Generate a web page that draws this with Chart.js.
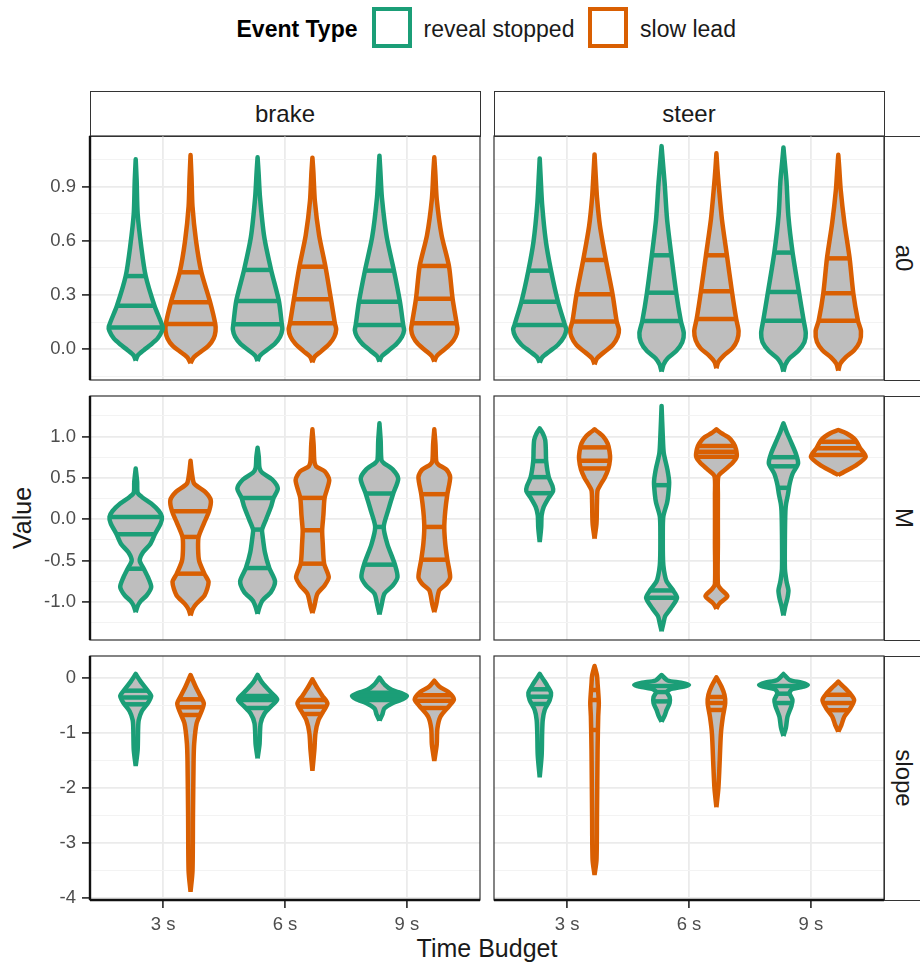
<!DOCTYPE html>
<html>
<head>
<meta charset="utf-8">
<script src="https://cdn.jsdelivr.net/npm/chart.js@4.4.1/dist/chart.umd.min.js"></script>
<style>
  body { margin: 0; background: #fff; font-family: "Liberation Sans", Arial, sans-serif; }
  #wrap { position: relative; width: 920px; height: 965px; overflow: hidden; background: #fff; }
  #wrap canvas { position: absolute; }
  .strip { position: absolute; box-sizing: border-box; border: 1px solid #333; background: #fff; }
  .txt { position: absolute; white-space: nowrap; line-height: 1; transform: translate(-50%, -50%); color: #1a1a1a; }
  .key { position: absolute; box-sizing: border-box; width: 40px; height: 41px; border: 4px solid; background: #fff; }
</style>
</head>
<body>
<div id="wrap">
  <!-- legend -->
  <div class="txt" style="left:297px; top:29px; font-size:23px; font-weight:bold; color:#000;">Event Type</div>
  <div class="key" style="left:372px; top:7px; border-color:#1B9E77;"></div>
  <div class="txt" style="left:499px; top:29px; font-size:23px;">reveal stopped</div>
  <div class="key" style="left:588px; top:7px; border-color:#D95F02;"></div>
  <div class="txt" style="left:688px; top:29px; font-size:23px;">slow lead</div>

  <!-- facet strips -->
  <div class="strip" style="left:90px; top:91px; width:391px; height:46px;"></div>
  <div class="strip" style="left:494px; top:91px; width:391px; height:46px;"></div>
  <div class="txt" style="left:285px; top:114px; font-size:24px;">brake</div>
  <div class="txt" style="left:689px; top:114px; font-size:24px;">steer</div>

  <div class="strip" style="left:884px; top:136px; width:50px; height:245px;"></div>
  <div class="strip" style="left:884px; top:396px; width:50px; height:245px;"></div>
  <div class="strip" style="left:884px; top:656px; width:50px; height:245px;"></div>
  <div class="txt" style="left:904px; top:258px; font-size:24px; transform:translate(-50%,-50%) rotate(90deg);">a0</div>
  <div class="txt" style="left:904px; top:518px; font-size:24px; transform:translate(-50%,-50%) rotate(90deg);">M</div>
  <div class="txt" style="left:904px; top:778px; font-size:24px; transform:translate(-50%,-50%) rotate(90deg);">slope</div>

  <!-- axis titles -->
  <div class="txt" style="left:22px; top:518px; font-size:25px; transform:translate(-50%,-50%) rotate(-90deg);">Value</div>
  <div class="txt" style="left:487px; top:948px; font-size:25px;">Time Budget</div>

  <canvas id="brakeA0" width="446" height="250" style="left:37px; top:133px;"></canvas>
  <canvas id="steerA0" width="396" height="250" style="left:491px; top:133px;"></canvas>
  <canvas id="brakeM" width="446" height="250" style="left:37px; top:393px;"></canvas>
  <canvas id="steerM" width="396" height="250" style="left:491px; top:393px;"></canvas>
  <canvas id="brakeSlope" width="446" height="291" style="left:37px; top:653px;"></canvas>
  <canvas id="steerSlope" width="396" height="291" style="left:491px; top:653px;"></canvas>
</div>

<script>
// categories
const timeBudgets = ['3 s', '6 s', '9 s'];
const eventTypes = ['reveal stopped', 'slow lead'];
const eventColors = ['#1B9E77', '#D95F02'];

// y axes per row (free scales)
const a0Range = [-0.17, 1.18];
const a0Ticks = [0, 0.3, 0.6, 0.9];
const a0TickLabels = ['0.0', '0.3', '0.6', '0.9'];
const a0Minor = [-0.15, 0.15, 0.45, 0.75, 1.05];

const mRange = [-1.46, 1.49];
const mTicks = [-1, -0.5, 0, 0.5, 1];
const mTickLabels = ['-1.0', '-0.5', '0.0', '0.5', '1.0'];
const mMinor = [-1.25, -0.75, -0.25, 0.25, 0.75, 1.25];

const slopeRange = [-4.03, 0.405];
const slopeTicks = [-4, -3, -2, -1, 0];
const slopeTickLabels = ['-4', '-3', '-2', '-1', '0'];
const slopeMinor = [-3.5, -2.5, -1.5, -0.5];

// violin profiles: [value, half width] from bottom to top
// order: 3 s reveal, 3 s slow, 6 s reveal, 6 s slow, 9 s reveal, 9 s slow
const brakeA0Profiles = [
  [[-0.063,0],[-0.035,.016],[-0.005,.066],[0.025,.123],[0.06,.18],[0.1,.215],[0.125,.221],[0.241,.154],[0.405,.082],[0.57,.045],[0.75,.016],[0.93,.008],[1.051,0]],
  [[-0.077,0],[-0.045,.025],[-0.015,.082],[0.02,.148],[0.06,.189],[0.1,.205],[0.14,.203],[0.26,.161],[0.426,.089],[0.6,.045],[0.79,.016],[0.95,.008],[1.075,0]],
  [[-0.065,0],[-0.035,.02],[-0.005,.074],[0.03,.14],[0.07,.185],[0.11,.203],[0.138,.199],[0.267,.175],[0.439,.111],[0.62,.055],[0.84,.02],[0.98,.008],[1.062,0]],
  [[-0.072,0],[-0.04,.02],[-0.01,.074],[0.03,.14],[0.07,.18],[0.11,.195],[0.144,.184],[0.277,.152],[0.457,.107],[0.63,.055],[0.82,.02],[0.98,.008],[1.06,0]],
  [[-0.068,0],[-0.038,.02],[-0.008,.074],[0.03,.14],[0.07,.185],[0.105,.202],[0.134,.195],[0.263,.168],[0.435,.119],[0.62,.06],[0.84,.02],[0.98,.008],[1.071,0]],
  [[-0.068,0],[-0.038,.02],[-0.008,.07],[0.03,.135],[0.07,.175],[0.11,.19],[0.144,.183],[0.28,.15],[0.461,.12],[0.63,.06],[0.83,.02],[0.98,.008],[1.062,0]]
];
const brakeA0Quartiles = [
  [0.12, 0.241, 0.405], [0.14, 0.26, 0.426], [0.138, 0.267, 0.439],
  [0.144, 0.277, 0.457], [0.134, 0.263, 0.435], [0.144, 0.28, 0.461]
];

const steerA0Profiles = [
  [[-0.074,0],[-0.045,.02],[-0.012,.08],[0.025,.15],[0.07,.2],[0.11,.218],[0.134,.207],[0.263,.15],[0.435,.093],[0.6,.05],[0.8,.02],[0.95,.008],[1.056,0]],
  [[-0.083,0],[-0.05,.02],[-0.015,.08],[0.025,.15],[0.07,.19],[0.11,.2],[0.153,.182],[0.304,.148],[0.494,.093],[0.68,.045],[0.84,.02],[0.98,.008],[1.078,0]],
  [[-0.124,0],[-0.085,.016],[-0.05,.05],[-0.01,.12],[0.04,.17],[0.09,.182],[0.157,.158],[0.313,.12],[0.52,.08],[0.72,.045],[0.92,.025],[1.04,.01],[1.124,0]],
  [[-0.105,0],[-0.07,.016],[-0.035,.06],[0.005,.13],[0.05,.17],[0.1,.182],[0.168,.162],[0.321,.127],[0.52,.086],[0.72,.045],[0.9,.02],[1.0,.008],[1.084,0]],
  [[-0.124,0],[-0.085,.016],[-0.05,.05],[-0.01,.12],[0.04,.172],[0.09,.183],[0.158,.166],[0.317,.127],[0.535,.075],[0.74,.04],[0.93,.025],[1.04,.01],[1.117,0]],
  [[-0.118,0],[-0.08,.016],[-0.045,.06],[-0.005,.13],[0.04,.175],[0.1,.186],[0.158,.161],[0.31,.123],[0.503,.093],[0.7,.05],[0.88,.02],[1.0,.008],[1.076,0]]
];
const steerA0Quartiles = [
  [0.134, 0.263, 0.435], [0.153, 0.304, 0.494], [0.157, 0.313, 0.52],
  [0.168, 0.321, 0.52], [0.158, 0.317, 0.535], [0.158, 0.31, 0.503]
];

const brakeMProfiles = [
  [[-1.124,0],[-1.05,.016],[-0.99,.041],[-0.92,.09],[-0.82,.127],[-0.7,.1],[-0.598,.066],[-0.5,.033],[-0.4,.06],[-0.3,.12],[-0.182,.157],[-0.05,.205],[0.028,.215],[0.1,.19],[0.19,.127],[0.27,.05],[0.32,.016],[0.45,.012],[0.614,0]],
  [[-1.164,0],[-1.09,.016],[-1.02,.049],[-0.92,.115],[-0.76,.148],[-0.658,.113],[-0.5,.07],[-0.35,.062],[-0.214,.066],[-0.05,.11],[0.097,.152],[0.23,.166],[0.33,.12],[0.43,.03],[0.55,.012],[0.707,0]],
  [[-1.143,0],[-1.06,.016],[-0.98,.041],[-0.88,.11],[-0.75,.143],[-0.59,.096],[-0.4,.06],[-0.2,.041],[-0.125,.037],[0.0,.07],[0.15,.11],[0.258,.131],[0.372,.166],[0.48,.12],[0.56,.04],[0.62,.016],[0.75,.01],[0.865,0]],
  [[-1.135,0],[-1.05,.016],[-0.9,.041],[-0.8,.1],[-0.7,.134],[-0.537,.096],[-0.3,.085],[-0.133,.08],[0.05,.09],[0.258,.1],[0.473,.138],[0.58,.1],[0.64,.03],[0.7,.016],[0.9,.01],[1.087,0]],
  [[-1.152,0],[-1.05,.016],[-0.9,.041],[-0.8,.11],[-0.7,.148],[-0.549,.127],[-0.3,.065],[-0.093,.035],[0.1,.07],[0.311,.113],[0.49,.154],[0.6,.11],[0.68,.035],[0.72,.016],[0.95,.01],[1.16,0]],
  [[-1.124,0],[-1.03,.016],[-0.86,.041],[-0.78,.1],[-0.7,.13],[-0.489,.107],[-0.3,.09],[-0.093,.082],[0.1,.09],[0.303,.107],[0.51,.13],[0.6,.1],[0.66,.035],[0.7,.016],[0.9,.01],[1.087,0]]
];
const brakeMQuartiles = [
  [-0.598, -0.182, 0.028], [-0.658, -0.214, 0.097], [-0.59, -0.125, 0.258],
  [-0.537, -0.133, 0.258], [-0.549, -0.093, 0.311], [-0.489, -0.093, 0.303]
];

const steerMProfiles = [
  [[-0.275,0],[-0.1,.012],[0.05,.016],[0.149,.033],[0.25,.07],[0.34,.11],[0.4,.105],[0.509,.074],[0.703,.053],[0.85,.05],[0.96,.045],[1.04,.025],[1.099,0]],
  [[-0.234,0],[-0.05,.016],[0.2,.02],[0.35,.025],[0.42,.05],[0.5,.082],[0.6,.111],[0.727,.127],[0.82,.123],[0.917,.107],[0.998,.072],[1.05,.033],[1.087,0]],
  [[-1.354,0],[-1.25,.016],[-1.17,.03],[-1.08,.075],[-0.95,.127],[-0.85,.09],[-0.75,.041],[-0.62,.02],[-0.5,.012],[-0.2,.01],[0.03,.014],[0.2,.045],[0.3,.055],[0.45,.062],[0.6,.048],[0.8,.018],[1.0,.01],[1.37,0]],
  [[-1.083,0],[-1.02,.025],[-0.93,.09],[-0.84,.033],[-0.78,.012],[-0.3,.012],[0.3,.012],[0.52,.016],[0.594,.066],[0.68,.131],[0.755,.166],[0.85,.16],[0.92,.14],[0.99,.098],[1.04,.041],[1.087,0]],
  [[-1.164,0],[-1.05,.016],[-0.95,.033],[-0.86,.041],[-0.75,.025],[-0.6,.012],[-0.2,.012],[0.1,.016],[0.19,.022],[0.3,.037],[0.42,.05],[0.55,.075],[0.675,.12],[0.8,.1],[0.95,.057],[1.06,.025],[1.16,0]],
  [[0.533,0],[0.575,.049],[0.655,.148],[0.755,.225],[0.857,.18],[0.96,.139],[1.039,.066],[1.079,0]]
];
const steerMQuartiles = [
  [0.315, 0.509, 0.703], [0.614, 0.707, 0.869], [-0.949, -0.861, 0.412],
  [0.755, 0.816, 0.885], [0.38, 0.64, 0.75], [0.776, 0.857, 0.937]
];

const brakeSlopeProfiles = [
  [[-1.595,0],[-1.3,.016],[-0.9,.02],[-0.76,.025],[-0.6,.05],[-0.45,.1],[-0.322,.127],[-0.2,.09],[-0.06,.041],[0.078,0]],
  [[-3.88,0],[-3.5,.016],[-2.5,.02],[-1.5,.025],[-1.18,.03],[-0.818,.05],[-0.6,.09],[-0.455,.109],[-0.3,.075],[-0.15,.041],[0.06,0]],
  [[-1.455,0],[-1.2,.016],[-0.82,.025],[-0.64,.057],[-0.5,.115],[-0.382,.161],[-0.25,.107],[-0.09,.041],[0.06,0]],
  [[-1.68,0],[-1.3,.016],[-1.0,.025],[-0.76,.05],[-0.6,.09],[-0.455,.123],[-0.32,.082],[-0.18,.041],[-0.018,0]],
  [[-0.77,0],[-0.65,.025],[-0.55,.04],[-0.45,.11],[-0.38,.19],[-0.322,.225],[-0.27,.18],[-0.21,.1],[-0.12,.045],[0.011,0]],
  [[-1.503,0],[-1.2,.02],[-0.92,.025],[-0.7,.05],[-0.5,.123],[-0.382,.161],[-0.25,.115],[-0.15,.041],[-0.044,0]]
];
const brakeSlopeQuartiles = [
  [-0.473, -0.349, -0.225], [-0.667, -0.527, -0.382], [-0.54, -0.395, -0.322],
  [-0.649, -0.516, -0.395], [-0.395, -0.322, -0.262], [-0.54, -0.407, -0.31]
];

const steerSlopeProfiles = [
  [[-1.8,0],[-1.4,.016],[-1.0,.02],[-0.76,.025],[-0.575,.041],[-0.4,.082],[-0.262,.093],[-0.15,.066],[-0.06,.041],[0.078,0]],
  [[-3.576,0],[-3.3,.016],[-2.5,.02],[-1.3,.025],[-0.7,.03],[-0.455,.035],[-0.25,.03],[-0.1,.025],[0.05,.02],[0.224,0]],
  [[-0.789,0],[-0.68,.025],[-0.575,.041],[-0.45,.066],[-0.34,.066],[-0.25,.045],[-0.2,.07],[-0.16,.16],[-0.12,.225],[-0.08,.16],[-0.04,.05],[0.06,0]],
  [[-2.345,0],[-2.0,.016],[-1.6,.025],[-1.0,.037],[-0.7,.053],[-0.45,.072],[-0.3,.066],[-0.15,.041],[0.018,0]],
  [[-1.049,0],[-0.9,.02],[-0.7,.033],[-0.5,.066],[-0.39,.074],[-0.27,.05],[-0.2,.07],[-0.16,.15],[-0.122,.2],[-0.08,.15],[-0.03,.05],[0.078,0]],
  [[-0.97,0],[-0.85,.025],[-0.7,.049],[-0.55,.098],[-0.394,.13],[-0.28,.098],[-0.15,.041],[-0.062,0]]
];
const steerSlopeQuartiles = [
  [-0.467, -0.335, -0.2], [-0.94, -0.395, -0.213], [-0.42, -0.25, -0.14],
  [-0.576, -0.449, -0.34], [-0.45, -0.28, -0.14], [-0.58, -0.45, -0.3]
];

const dodge = 0.225;         // half of the 0.9 dodge width
const violinFill = '#BEBEBE';
const strokeWidth = 4.5;
const fontFamily = '"Liberation Sans", Arial, sans-serif';

// closed outline: left side bottom->top, right side top->bottom
function outline(profile, cx) {
  const left = profile.map(([v, w]) => ({ x: cx - w, y: v }));
  const right = profile.slice().reverse().map(([v, w]) => ({ x: cx + w, y: v }));
  return left.concat(right, [left[0]]);
}

// violin half width at a given value (linear between profile points)
function widthAt(profile, q) {
  for (let i = 1; i < profile.length; i++) {
    const [v0, w0] = profile[i - 1];
    const [v1, w1] = profile[i];
    if (q >= v0 && q <= v1) return w0 + (w1 - w0) * (q - v0) / (v1 - v0);
  }
  return 0;
}

// panel border and axis lines
const panelFrame = {
  id: 'panelFrame',
  afterDraw(chart, args, opts) {
    const { ctx, chartArea: a } = chart;
    ctx.save();
    ctx.strokeStyle = '#333';
    ctx.lineWidth = 1.2;
    ctx.strokeRect(a.left, a.top, a.right - a.left, a.bottom - a.top);
    ctx.strokeStyle = '#111';
    ctx.lineWidth = 2.4;
    ctx.beginPath();
    if (opts.axisLeft) { ctx.moveTo(a.left, a.top); ctx.lineTo(a.left, a.bottom); }
    if (opts.axisBottom) { ctx.moveTo(a.left, a.bottom); ctx.lineTo(a.right, a.bottom); }
    ctx.stroke();
    ctx.restore();
  }
};

function buildPanel(id, profiles, quartiles, range, ticks, tickLabels, minor, left, bottom) {
  const datasets = [];
  profiles.forEach((profile, i) => {
    const group = Math.floor(i / 2);
    const ev = i % 2;
    const cx = group + 1 + (ev === 0 ? -dodge : dodge);
    const color = eventColors[ev];
    datasets.push({
      label: eventTypes[ev] + ' ' + timeBudgets[group],
      data: outline(profile, cx),
      showLine: true,
      fill: 'shape',
      backgroundColor: violinFill,
      borderColor: color,
      borderWidth: strokeWidth,
      borderJoinStyle: 'round',
      pointRadius: 0,
      tension: 0.25,
      order: 2
    });
    quartiles[i].forEach(q => {
      const w = widthAt(profile, q);
      datasets.push({
        data: [{ x: cx - w, y: q }, { x: cx + w, y: q }],
        showLine: true,
        fill: false,
        borderColor: color,
        borderWidth: strokeWidth,
        pointRadius: 0,
        order: 1
      });
    });
  });

  const allTicks = ticks.concat(minor).sort((p, q) => p - q);
  const isMajor = v => ticks.some(t => Math.abs(t - v) < 1e-9);

  new Chart(document.getElementById(id), {
    type: 'scatter',
    data: { datasets },
    options: {
      responsive: false,
      animation: false,
      layout: { padding: { left: 3, right: 3, top: 3, bottom: bottom ? 0 : 3 } },
      plugins: {
        legend: { display: false },
        tooltip: { enabled: false },
        panelFrame: { axisLeft: left, axisBottom: bottom }
      },
      scales: {
        x: {
          type: 'linear',
          min: 0.4,
          max: 3.6,
          afterBuildTicks: s => { s.ticks = [1, 2, 3].map(v => ({ value: v })); },
          afterFit: s => { s.height = bottom ? 44 : 0; s.paddingLeft = 0; s.paddingRight = 0; },
          border: { display: false },
          grid: { color: '#EBEBEB', lineWidth: 1.8, drawTicks: bottom, tickLength: 8, tickColor: '#333', tickWidth: 1.7 },
          ticks: {
            display: bottom,
            autoSkip: false,
            maxRotation: 0,
            padding: 6,
            color: '#4D4D4D',
            font: { size: 18.5, family: fontFamily },
            callback: v => timeBudgets[Math.round(v) - 1]
          }
        },
        y: {
          type: 'linear',
          min: range[0],
          max: range[1],
          afterBuildTicks: s => { s.ticks = allTicks.map(v => ({ value: v })); },
          afterFit: s => { s.width = left ? 50 : 0; s.paddingTop = 0; s.paddingBottom = 0; },
          border: { display: false },
          grid: {
            color: c => isMajor(c.tick.value) ? '#EBEBEB' : '#F3F3F3',
            lineWidth: c => isMajor(c.tick.value) ? 1.8 : 1.1,
            drawTicks: left,
            tickLength: 8,
            tickWidth: 1.7,
            tickColor: c => isMajor(c.tick.value) ? '#333' : 'rgba(0,0,0,0)'
          },
          ticks: {
            display: left,
            autoSkip: false,
            padding: 6,
            color: '#4D4D4D',
            font: { size: 18.5, family: fontFamily },
            callback: v => {
              const k = ticks.findIndex(t => Math.abs(t - v) < 1e-9);
              return k >= 0 ? tickLabels[k] : '';
            }
          }
        }
      }
    },
    plugins: [panelFrame]
  });
}

buildPanel('brakeA0', brakeA0Profiles, brakeA0Quartiles, a0Range, a0Ticks, a0TickLabels, a0Minor, true, false);
buildPanel('steerA0', steerA0Profiles, steerA0Quartiles, a0Range, a0Ticks, a0TickLabels, a0Minor, false, false);
buildPanel('brakeM', brakeMProfiles, brakeMQuartiles, mRange, mTicks, mTickLabels, mMinor, true, false);
buildPanel('steerM', steerMProfiles, steerMQuartiles, mRange, mTicks, mTickLabels, mMinor, false, false);
buildPanel('brakeSlope', brakeSlopeProfiles, brakeSlopeQuartiles, slopeRange, slopeTicks, slopeTickLabels, slopeMinor, true, true);
buildPanel('steerSlope', steerSlopeProfiles, steerSlopeQuartiles, slopeRange, slopeTicks, slopeTickLabels, slopeMinor, false, true);
</script>
</body>
</html>
